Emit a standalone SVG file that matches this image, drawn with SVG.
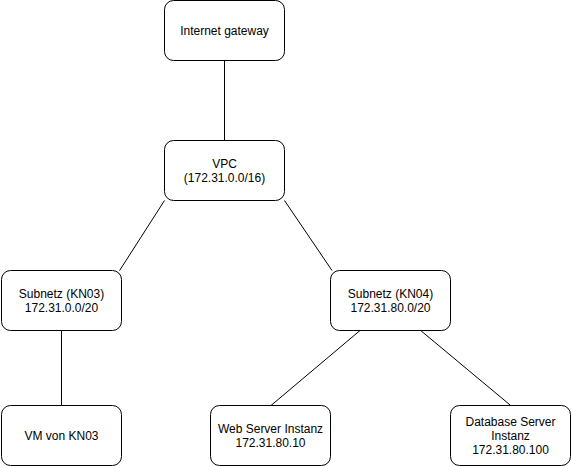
<svg xmlns="http://www.w3.org/2000/svg" width="571" height="466" viewBox="0 0 571 466">
<style>
.box{fill:#fff;stroke:#000;stroke-width:1}
.lbl{font-family:"Liberation Sans",Arial,Helvetica,sans-serif;font-size:12px;fill:#000;text-anchor:middle}
.conn line{stroke:#000;stroke-width:1}
</style>
<rect width="571" height="466" fill="#fff"/>
<g id="connectors" class="conn">
<line x1="224.5" y1="60.5" x2="224.5" y2="140.5"/>
<line x1="164.5" y1="200.5" x2="119.6" y2="270.5"/>
<line x1="284.5" y1="200.5" x2="332" y2="270.5"/>
<line x1="61.5" y1="330.5" x2="61.5" y2="405.5"/>
<line x1="360" y1="330.5" x2="271" y2="405.5"/>
<line x1="420.7" y1="330.5" x2="510.7" y2="405.5"/>
</g>
<g id="internet-gateway">
<rect class="box" x="164.5" y="0.5" width="120" height="60" rx="9"/>
<text class="lbl" x="224.5" y="34.8">Internet gateway</text>
</g>
<g id="vpc">
<rect class="box" x="164.5" y="140.5" width="120" height="60" rx="9"/>
<text class="lbl" x="224.5" y="167.5">VPC</text>
<text class="lbl" x="224.5" y="181.5">(172.31.0.0/16)</text>
</g>
<g id="subnet-kn03">
<rect class="box" x="1.5" y="270.5" width="120" height="60" rx="9"/>
<text class="lbl" x="61.5" y="297.5">Subnetz (KN03)</text>
<text class="lbl" x="61.5" y="311.5">172.31.0.0/20</text>
</g>
<g id="subnet-kn04">
<rect class="box" x="330.5" y="270.5" width="120" height="60" rx="9"/>
<text class="lbl" x="390.5" y="297.5">Subnetz (KN04)</text>
<text class="lbl" x="390.5" y="311.5">172.31.80.0/20</text>
</g>
<g id="vm-kn03">
<rect class="box" x="1.5" y="405.5" width="120" height="60" rx="9"/>
<text class="lbl" x="61.5" y="439.8">VM von KN03</text>
</g>
<g id="web-server">
<rect class="box" x="210.5" y="405.5" width="120" height="60" rx="9"/>
<text class="lbl" x="270.5" y="432.5">Web Server Instanz</text>
<text class="lbl" x="270.5" y="446.5">172.31.80.10</text>
</g>
<g id="database-server">
<rect class="box" x="450.5" y="405.5" width="120" height="60" rx="9"/>
<text class="lbl" x="510.5" y="425.5">Database Server</text>
<text class="lbl" x="510.5" y="439.5">Instanz</text>
<text class="lbl" x="510.5" y="453.5">172.31.80.100</text>
</g>
</svg>
